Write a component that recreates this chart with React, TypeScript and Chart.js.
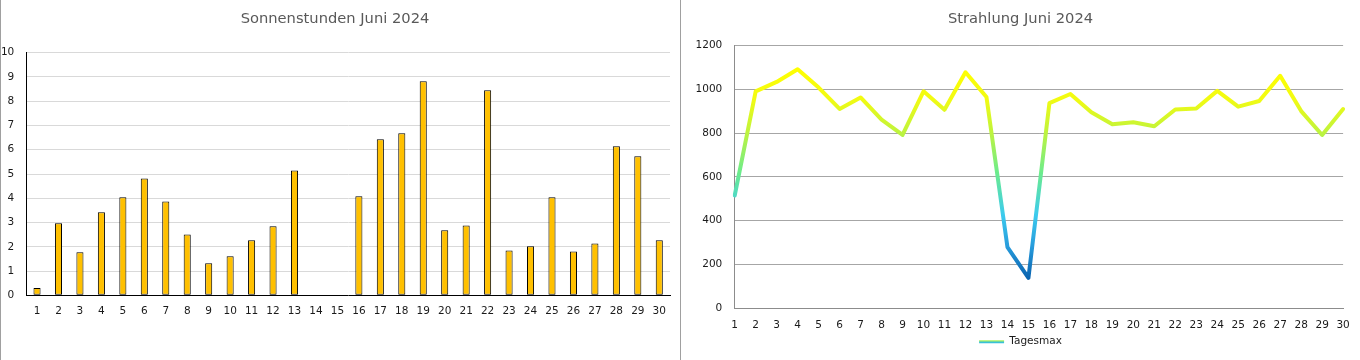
import React, { useEffect, useRef } from 'react';
import { Chart, registerables } from 'chart.js';

Chart.register(...registerables);

// ---------- data ----------
const days = ['1', '2', '3', '4', '5', '6', '7', '8', '9', '10', '11', '12', '13', '14', '15', '16', '17', '18', '19', '20', '21', '22', '23', '24', '25', '26', '27', '28', '29', '30'];

const sunTitle = 'Sonnenstunden Juni 2024';
const sunHours = [0.3, 2.97, 1.77, 3.42, 4.04, 4.82, 3.87, 2.51, 1.32, 1.61, 2.27, 2.85, 5.15, 0, 0, 4.08, 6.43, 6.68, 8.82, 2.68, 2.88, 8.45, 1.85, 2.02, 4.04, 1.81, 2.14, 6.14, 5.73, 2.27];
const sunMin = 0;
const sunMax = 10;
const sunStep = 1;

const radTitle = 'Strahlung Juni 2024';
const radLabel = 'Tagesmax';
const radiationMax = [515, 990, 1033, 1091, 1007, 910, 962, 861, 791, 990, 906, 1077, 964, 280, 139, 936, 978, 895, 840, 849, 831, 907, 912, 992, 920, 946, 1061, 900, 791, 909];
const radMin = 0;
const radMax = 1200;
const radStep = 200;

// ---------- styles ----------
const FONT = 'DejaVu Sans';
const tickFont = { family: FONT, size: 10.5, weight: 'normal' as const };
const titleFont = { family: FONT, size: 14.7, weight: 'normal' as const };
const tickColor = '#1a1a1a';
const titleColor = '#595959';
const plainNumber = (v: any) => String(v);

function lineGradient(ctx: any) {
  const chart = ctx.chart;
  const { chartArea, scales } = chart;
  if (!chartArea || !scales || !scales.y) return '#FFFF00';
  const y0 = scales.y.getPixelForValue(1100);
  const y1 = scales.y.getPixelForValue(140);
  const g = chart.ctx.createLinearGradient(0, y0, 0, y1);
  g.addColorStop(0, '#FFFF00');
  g.addColorStop(0.15, '#F2FB12');
  g.addColorStop(0.3, '#C2F43A');
  g.addColorStop(0.5, '#6CEC8C');
  g.addColorStop(0.7, '#3CCBEE');
  g.addColorStop(0.85, '#279CDC');
  g.addColorStop(1, '#0A64B0');
  return g;
}

function SunChart() {
  const ref = useRef<HTMLCanvasElement>(null);
  useEffect(() => {
    if (!ref.current) return;
    const chart = new Chart(ref.current, {
      type: 'bar',
      data: {
        labels: days,
        datasets: [
          {
            data: sunHours,
            backgroundColor: '#FFC000',
            borderColor: '#000000',
            borderWidth: 1,
            borderSkipped: false,
            barPercentage: 0.33,
            categoryPercentage: 1,
          } as any,
        ],
      },
      options: {
        responsive: false,
        animation: false,
        layout: { padding: { left: 0, right: 10, top: 0, bottom: 34.7 } },
        plugins: {
          legend: { display: false },
          tooltip: { enabled: false },
          title: {
            display: true,
            text: sunTitle,
            color: titleColor,
            font: titleFont,
            padding: { top: 10.7, bottom: 24.4 },
          },
        },
        scales: {
          x: {
            grid: { display: false, drawTicks: false },
            border: { display: true, color: '#000000', width: 1 },
            ticks: { font: tickFont, color: tickColor, padding: 9.4, maxRotation: 0, autoSkip: false },
            afterFit: (s: any) => { s.height = 30; },
          },
          y: {
            min: sunMin,
            max: sunMax,
            grid: {
              color: (c: any) => (c.tick && c.tick.value === 0 ? 'rgba(0,0,0,0)' : '#D9D9D9'),
              drawTicks: false,
            },
            border: { display: true, color: '#000000', width: 1 },
            ticks: { stepSize: sunStep, font: tickFont, color: tickColor, padding: 12, callback: plainNumber },
            afterFit: (s: any) => { s.width = 26.3; },
          },
        },
      } as any,
    });
    return () => chart.destroy();
  }, []);
  return <canvas ref={ref} width={680} height={360} style={{ width: 680, height: 360, display: 'block' }} />;
}

function RadChart() {
  const ref = useRef<HTMLCanvasElement>(null);
  useEffect(() => {
    if (!ref.current) return;
    const chart = new Chart(ref.current, {
      type: 'line',
      data: {
        labels: days,
        datasets: [
          {
            label: radLabel,
            data: radiationMax,
            borderColor: lineGradient,
            backgroundColor: '#FFFF00',
            borderWidth: 4,
            pointRadius: 0,
            pointHoverRadius: 0,
            tension: 0,
            fill: false,
            borderJoinStyle: 'round',
            borderCapStyle: 'round',
          } as any,
        ],
      },
      options: {
        responsive: false,
        animation: false,
        layout: { padding: { left: 15, right: 14, top: 0, bottom: 3 } },
        plugins: {
          tooltip: { enabled: false },
          title: {
            display: true,
            text: radTitle,
            color: titleColor,
            font: titleFont,
            padding: { top: 10.7, bottom: 16.96 },
          },
          legend: {
            display: true,
            position: 'bottom',
            labels: {
              usePointStyle: true,
              pointStyleWidth: 25,
              boxHeight: 10.5,
              padding: 4,
              font: tickFont,
              color: tickColor,
              generateLabels: (c: any) => {
                const g = c.ctx.createLinearGradient(0, 339, 0, 342.5);
                g.addColorStop(0, '#F0FA30');
                g.addColorStop(0.45, '#A8F060');
                g.addColorStop(1, '#38C0D8');
                return [
                  {
                    text: radLabel,
                    fillStyle: g,
                    strokeStyle: g,
                    lineWidth: 3,
                    pointStyle: 'line',
                    hidden: false,
                    datasetIndex: 0,
                    fontColor: tickColor,
                    lineCap: 'butt',
                  },
                ];
              },
            },
          },
        },
        scales: {
          x: {
            offset: false,
            grid: { display: false, drawTicks: false },
            border: { display: true, color: '#8C8C8C', width: 1 },
            ticks: { font: tickFont, color: tickColor, padding: 10.2, maxRotation: 0, autoSkip: false },
            afterFit: (s: any) => { s.height = 24.1; },
          },
          y: {
            min: radMin,
            max: radMax,
            grid: { color: '#A6A6A6', drawTicks: false },
            border: { display: true, color: '#8C8C8C', width: 1 },
            ticks: { stepSize: radStep, font: tickFont, color: tickColor, padding: 12.4, callback: plainNumber },
            afterFit: (s: any) => { s.width = 39.7; },
          },
        },
      } as any,
    });
    return () => chart.destroy();
  }, []);
  return <canvas ref={ref} width={680} height={360} style={{ width: 680, height: 360, display: 'block' }} />;
}

export default function App() {
  return (
    <div style={{ position: 'fixed', left: 0, top: 0, width: 1360, height: 360, background: '#ffffff', overflow: 'hidden' }}>
      <div style={{ position: 'absolute', left: 0, top: 0, width: 680, height: 360 }}>
        <SunChart />
      </div>
      <div style={{ position: 'absolute', left: 680, top: 0, width: 680, height: 360 }}>
        <RadChart />
      </div>
      <div style={{ position: 'absolute', left: 0, top: 0, width: 1, height: 360, background: '#A0A0A0' }} />
      <div style={{ position: 'absolute', left: 680, top: 0, width: 1, height: 360, background: '#A0A0A0' }} />
    </div>
  );
}
